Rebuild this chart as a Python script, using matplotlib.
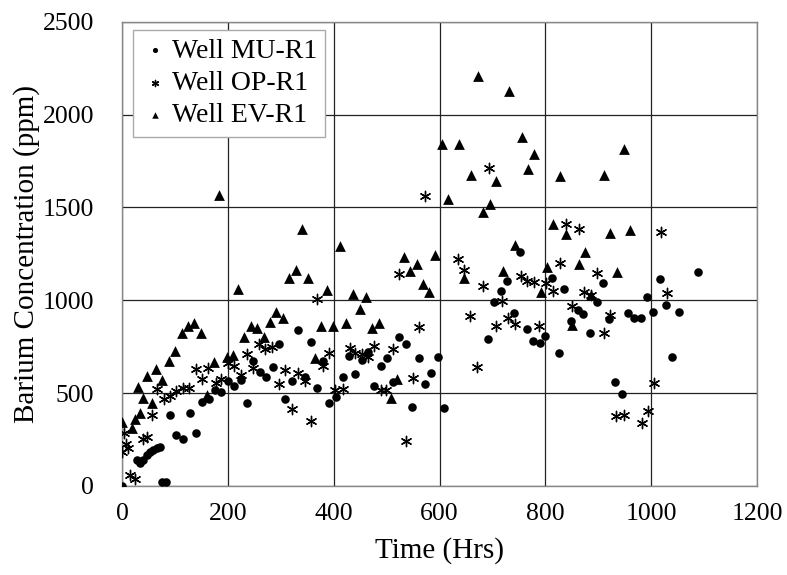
import matplotlib
matplotlib.use("Agg")
import matplotlib.pyplot as plt

# Well MU-R1 (circles)
mu_hrs = [0, 28, 34, 40, 47, 53, 59, 66, 71, 75, 84, 91, 103, 116, 128, 140,
          152, 164, 176, 188, 201, 212, 224, 236, 248, 261, 272, 285, 296,
          308, 321, 333, 345, 357, 368, 380, 392, 405, 417, 428, 440, 453,
          464, 477, 489, 500, 512, 524, 537, 548, 561, 573, 584, 597, 608,
          692, 703, 716, 728, 740, 752, 765, 776, 789, 800, 812, 825, 836,
          849, 861, 872, 885, 897, 908, 921, 932, 945, 956, 968, 980, 992,
          1004, 1016, 1028, 1040, 1053, 1088]
mu_ppm = [0, 140, 122, 140, 167, 185, 194, 203, 208, 23, 20, 383, 275, 251, 392, 287,
          454, 469, 517, 505, 567, 539, 571, 446, 673, 616, 589, 643, 765,
          467, 567, 840, 586, 774, 526, 673, 447, 481, 589, 700, 603, 679,
          720, 539, 647, 688, 557, 801, 765, 424, 691, 548, 610, 697, 419,
          792, 993, 1050, 1104, 930, 1262, 846, 783, 772, 808, 1119, 715, 1063,
          889, 948, 925, 826, 993, 1094, 900, 557, 494, 934, 907, 907, 1015,
          939, 1112, 975, 697, 939, 1151]

# Well OP-R1 (asterisks)
op_hrs = [0, 4, 8, 12, 16, 25, 40, 48, 56, 67, 79, 91, 103, 115, 127, 140,
          152, 163, 178, 188, 201, 212, 224, 236, 247, 259, 271, 284, 296,
          308, 321, 333, 345, 357, 368, 380, 392, 403, 417, 430, 440, 453,
          464, 477, 490, 499, 513, 524, 537, 549, 561, 573, 634, 647, 658,
          671, 682, 694, 707, 718, 730, 743, 754, 766, 778, 787, 801, 814,
          827, 839, 850, 863, 873, 886, 898, 910, 922, 934, 948, 983, 994,
          1006, 1019, 1030]
op_ppm = [185, 287, 226, 203, 59, 36, 251, 262, 383, 521, 469, 485, 513, 526, 526, 629,
          575, 634, 553, 575, 664, 647, 598, 711, 634, 765, 736, 750, 548,
          625, 413, 610, 567, 352, 1008, 647, 715, 517, 521, 742, 715, 711,
          693, 756, 517, 517, 738, 1142, 244, 583, 855, 1562, 1221, 1163, 916,
          643, 1077, 1715, 862, 998, 903, 872, 1133, 1105, 1100, 862, 1095, 1052,
          1203, 1412, 970, 1383, 1047, 1029, 1149, 823, 921, 377, 383, 341, 406,
          553, 1368, 1041]

# Well EV-R1 (triangles)
ev_hrs = [0, 18, 25, 31, 34, 39, 48, 56, 64, 76, 88, 100, 113, 124, 136, 149,
          160, 173, 184, 198, 209, 220, 231, 243, 256, 268, 280, 291, 304,
          316, 328, 340, 351, 364, 376, 388, 399, 412, 424, 436, 449, 461,
          472, 485, 509, 519, 533, 544, 557, 569, 580, 592, 604, 616, 636,
          647, 659, 672, 683, 696, 707, 720, 732, 743, 756, 767, 779, 791,
          803, 815, 827, 839, 850, 863, 875, 887, 911, 922, 936, 948, 959]
ev_ppm = [346, 314, 359, 532, 395, 476, 593, 449, 629, 571, 673, 727, 826, 862, 880, 826,
          487, 666, 1566, 697, 706, 1061, 804, 862, 853, 801, 881, 939, 907,
          1119, 1164, 1383, 1119, 691, 864, 1056, 864, 1295, 876, 1034, 951, 1018,
          853, 880, 476, 575, 1235, 1160, 1194, 1088, 1047, 1244, 1841, 1548, 1841,
          1119, 1676, 2207, 1473, 1519, 1645, 1155, 2129, 1296, 1880, 1705, 1789, 1044,
          1178, 1412, 1670, 1358, 867, 1196, 1259, 1029, 1676, 1362, 1151, 1813, 1379]

plt.rcParams['font.family'] = ['Liberation Serif', 'DejaVu Serif']

fig = plt.figure(figsize=(7.87, 5.75), dpi=100)
ax = fig.add_axes([0.155, 0.155, 0.807, 0.807])

ax.scatter(mu_hrs, mu_ppm, marker='o', s=38, color='black', linewidths=0,
           label='Well MU-R1', zorder=3)
ax.scatter(op_hrs, op_ppm, marker=(6, 2, 0), s=55, color='black', linewidths=1.0,
           label='Well OP-R1', zorder=3)
ax.scatter(ev_hrs, ev_ppm, marker='^', s=60, color='black', linewidths=0,
           label='Well EV-R1', zorder=3)

ax.set_xlim(0, 1200)
ax.set_ylim(0, 2500)
ax.set_xticks(range(0, 1201, 200))
ax.set_yticks(range(0, 2501, 500))
ax.grid(True, color='#222222', linewidth=0.9)
ax.set_axisbelow(True)
for sp in ax.spines.values():
    sp.set_color('#888888')
    sp.set_linewidth(1.0)
ax.tick_params(length=0, labelsize=18.5)
ax.tick_params(axis='x', pad=12)
ax.tick_params(axis='y', pad=20)

ax.set_xlabel('Time (Hrs)', fontsize=21, labelpad=9)
ax.set_ylabel('Barium Concentration (ppm)', fontsize=21, labelpad=2)

leg = ax.legend(loc='upper left', bbox_to_anchor=(0.017, 0.983), borderaxespad=0,
                fontsize=20, frameon=True, fancybox=False, edgecolor='#aaaaaa',
                framealpha=1, markerscale=0.6, handletextpad=0.1, borderpad=0.3,
                labelspacing=0.25, handlelength=1.0)
leg.get_frame().set_linewidth(1.0)

fig.savefig('out.png', dpi=100)
